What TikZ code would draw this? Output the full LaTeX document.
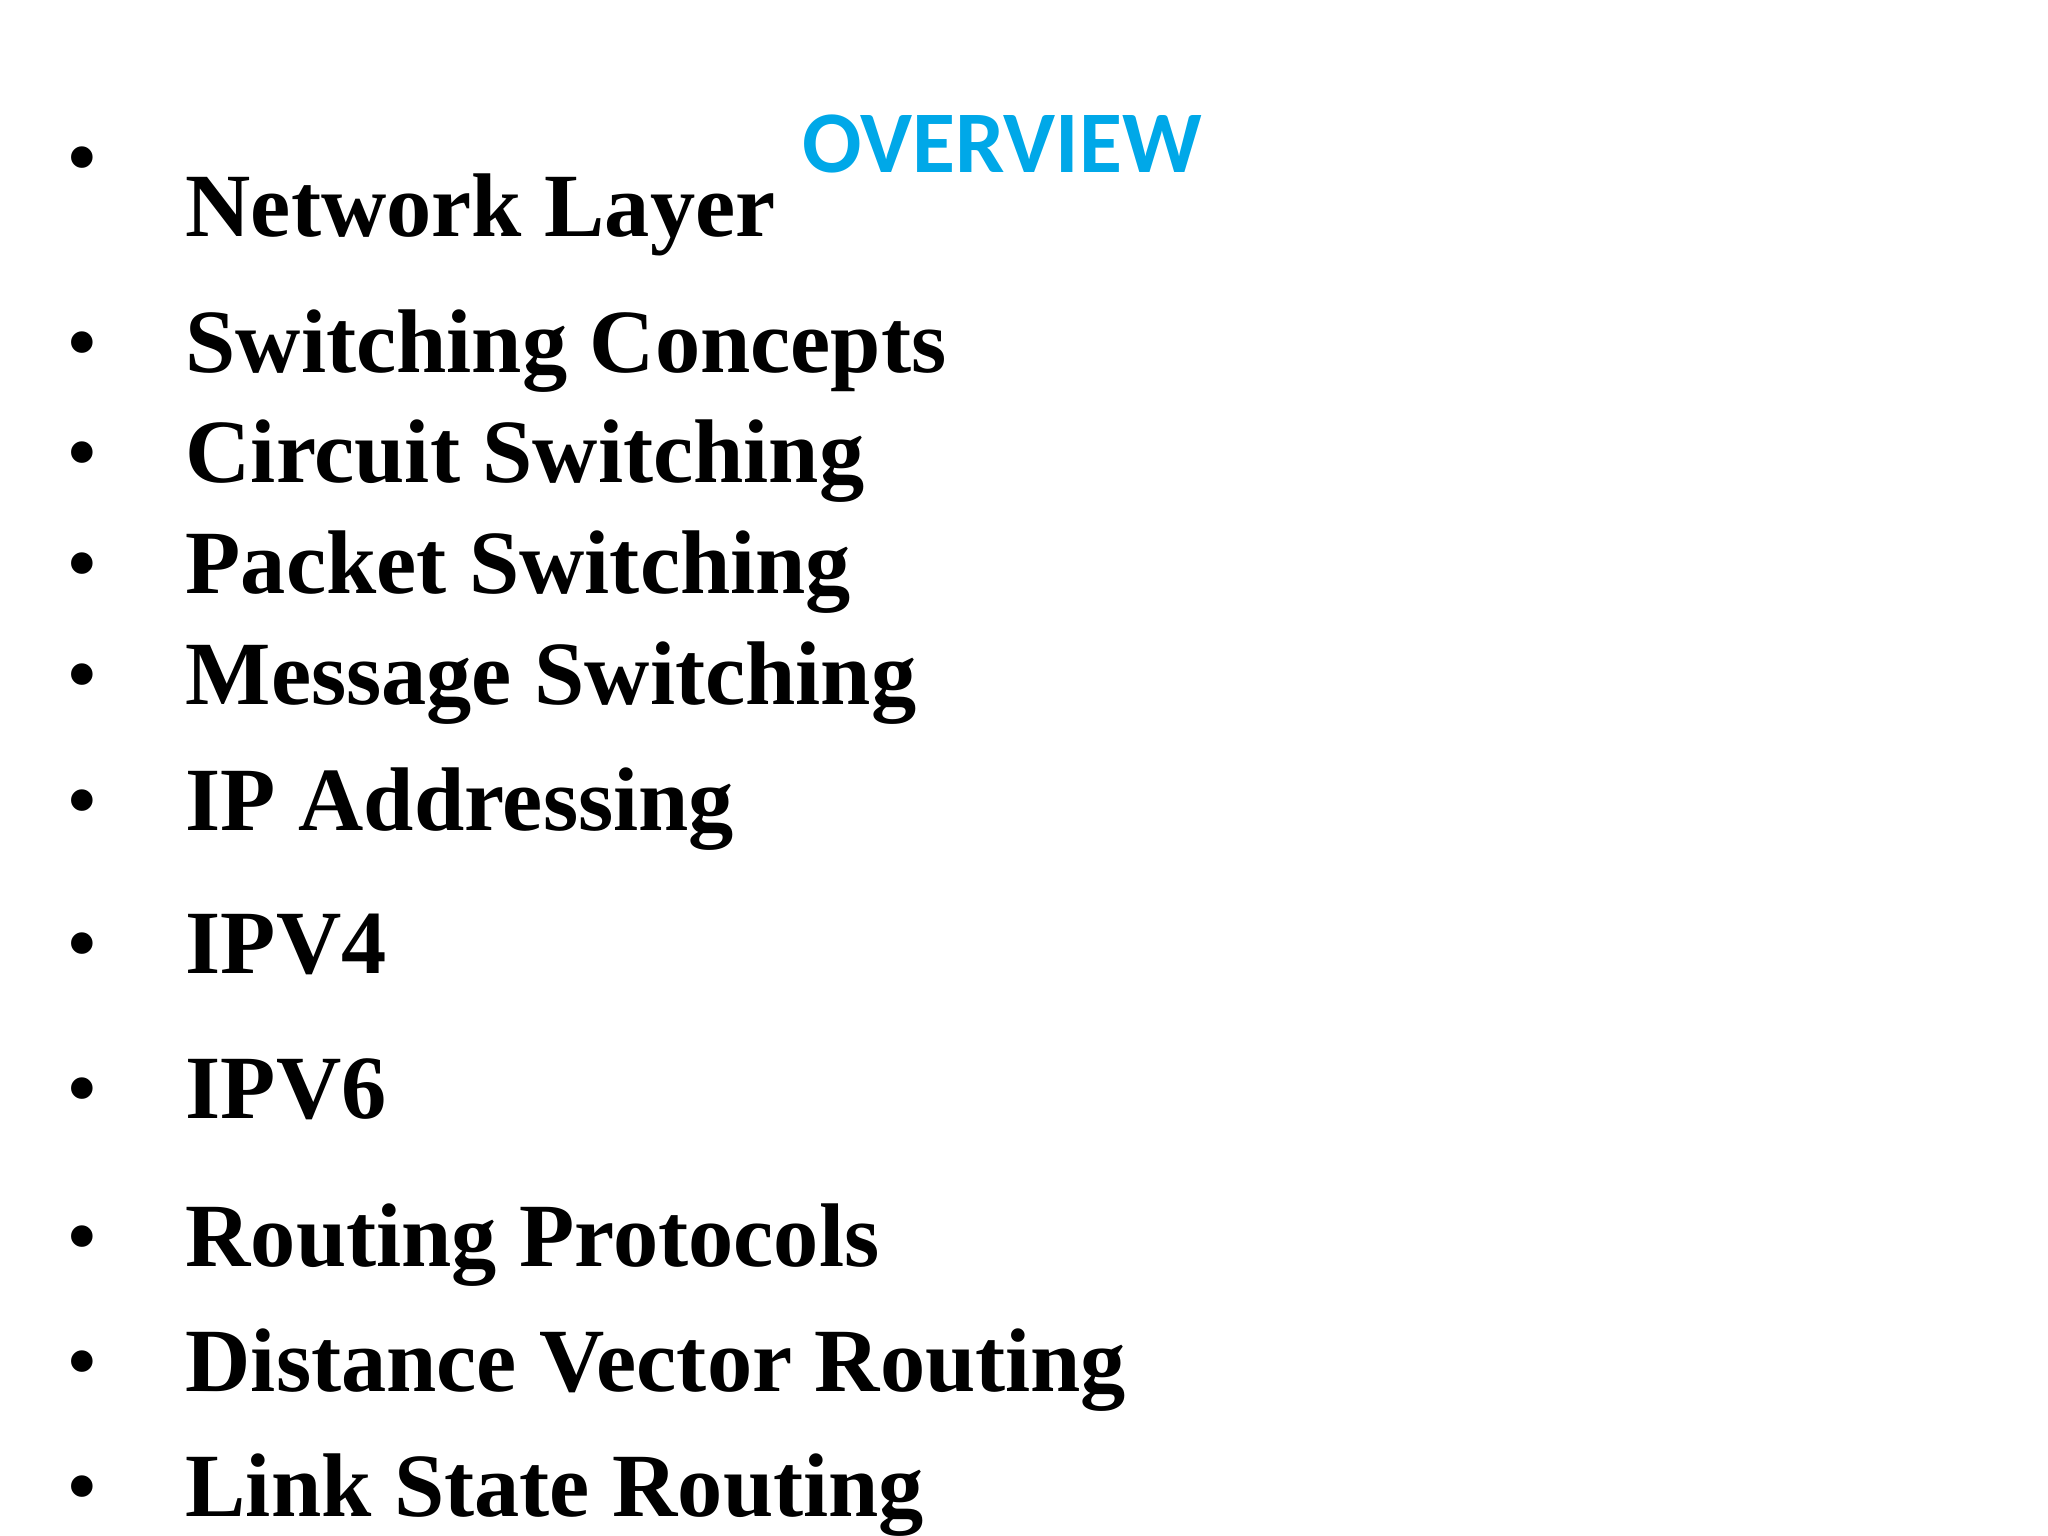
\documentclass[tikz,border=0pt]{standalone}
\usepackage{fontspec}
\setmainfont{Liberation Serif}
\newfontfamily\ovfont{Carlito}
\definecolor{ovblue}{HTML}{00A8E8}
\begin{document}
\begin{tikzpicture}[x=0.01cm,y=-0.01cm,
  item/.style={anchor=base west,inner sep=0pt,font=\fontsize{25.7pt}{27pt}\selectfont\bfseries},
  bul/.style={anchor=base west,inner sep=0pt,font=\fontsize{25.7pt}{27pt}\selectfont}]
\useasboundingbox (0,0) rectangle (2048,1536);
\node[anchor=base west,inner sep=0pt,text=ovblue,font=\fontsize{25pt}{27pt}\selectfont\ovfont\bfseries] (title) at (802,172) {OVERVIEW};
\foreach \t/\y [count=\i] in {Network Layer/236,Switching Concepts/372,Circuit Switching/482,Packet Switching/593,Message Switching/704,IP Addressing/830,IPV4/973,IPV6/1118,Routing Protocols/1266,Distance Vector Routing/1391,Link State Routing/1516}{
  \node[item] (t\i) at (185,\y) {\t};
}
\foreach \y [count=\i] in {187,372,482,593,704,830,973,1118,1266,1391,1516}{
  \node[bul] (b\i) at (66,\y) {•};
}
\end{tikzpicture}
\end{document}
